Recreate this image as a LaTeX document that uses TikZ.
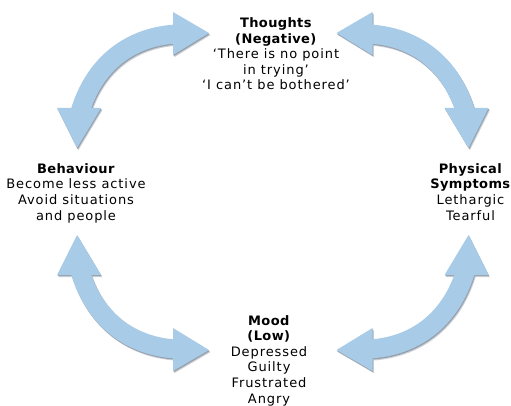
\documentclass[tikz,border=0pt]{standalone}
\usepackage{fontspec}
\setmainfont[LetterSpace=7, BoldFeatures={LetterSpace=3}]{DejaVu Sans}
\definecolor{arrowblue}{RGB}{168,204,232}
\definecolor{shadowA}{RGB}{205,210,216}
\definecolor{shadowB}{RGB}{150,160,172}
\newcommand{\dblarrowshape}[1]{%
  \draw[line width=19pt, draw=#1] (80,112) .. controls (93,68) and (126,37) .. (176,34);
  \fill[#1] (209,33) -- (173,12) -- (173,55) -- cycle;
  \fill[#1] (77,148) -- (57,108) -- (101,108) -- cycle;
}
\tikzset{
  lbl/.style={align=center, inner sep=0pt, anchor=base, text=black,
    font=\fontsize{13}{15.6}\selectfont},
  mirx/.style={shift={(545.5,0)}, xscale=-1},
  miry/.style={shift={(0,383)}, yscale=-1},
  mirxy/.style={shift={(545.5,383)}, xscale=-1, yscale=-1}
}
\begin{document}
\begin{tikzpicture}[x=1pt,y=-1pt]
\useasboundingbox (0,0) rectangle (511,406);
% shadows
\foreach \ox/\oy/\col in {1.4/2.2/shadowA,0.7/1.2/shadowB}{
  \begin{scope}[shift={(\ox,\oy)}]
    \begin{scope}\dblarrowshape{\col}\end{scope}
    \begin{scope}[mirx]\dblarrowshape{\col}\end{scope}
    \begin{scope}[miry]\dblarrowshape{\col}\end{scope}
    \begin{scope}[mirxy]\dblarrowshape{\col}\end{scope}
  \end{scope}
}
% arrows
\begin{scope}\dblarrowshape{arrowblue}\end{scope}
\begin{scope}[mirx]\dblarrowshape{arrowblue}\end{scope}
\begin{scope}[miry]\dblarrowshape{arrowblue}\end{scope}
\begin{scope}[mirxy]\dblarrowshape{arrowblue}\end{scope}
% labels (anchored at the baseline of their last line)
\node[lbl] (thoughts) at (276,90) {\textbf{Thoughts}\\\textbf{(Negative)}\\‘There is no point\\in trying’\\‘I can’t be bothered’};
\node[lbl] (behaviour) at (76,220) {\textbf{Behaviour}\\Become less active\\Avoid situations\\and people};
\node[lbl] (physical) at (470.5,220) {\textbf{Physical}\\\textbf{Symptoms}\\Lethargic\\Tearful};
\node[lbl] (mood) at (269,403) {\textbf{Mood}\\\textbf{(Low)}\\Depressed\\Guilty\\Frustrated\\Angry};
\end{tikzpicture}
\end{document}
